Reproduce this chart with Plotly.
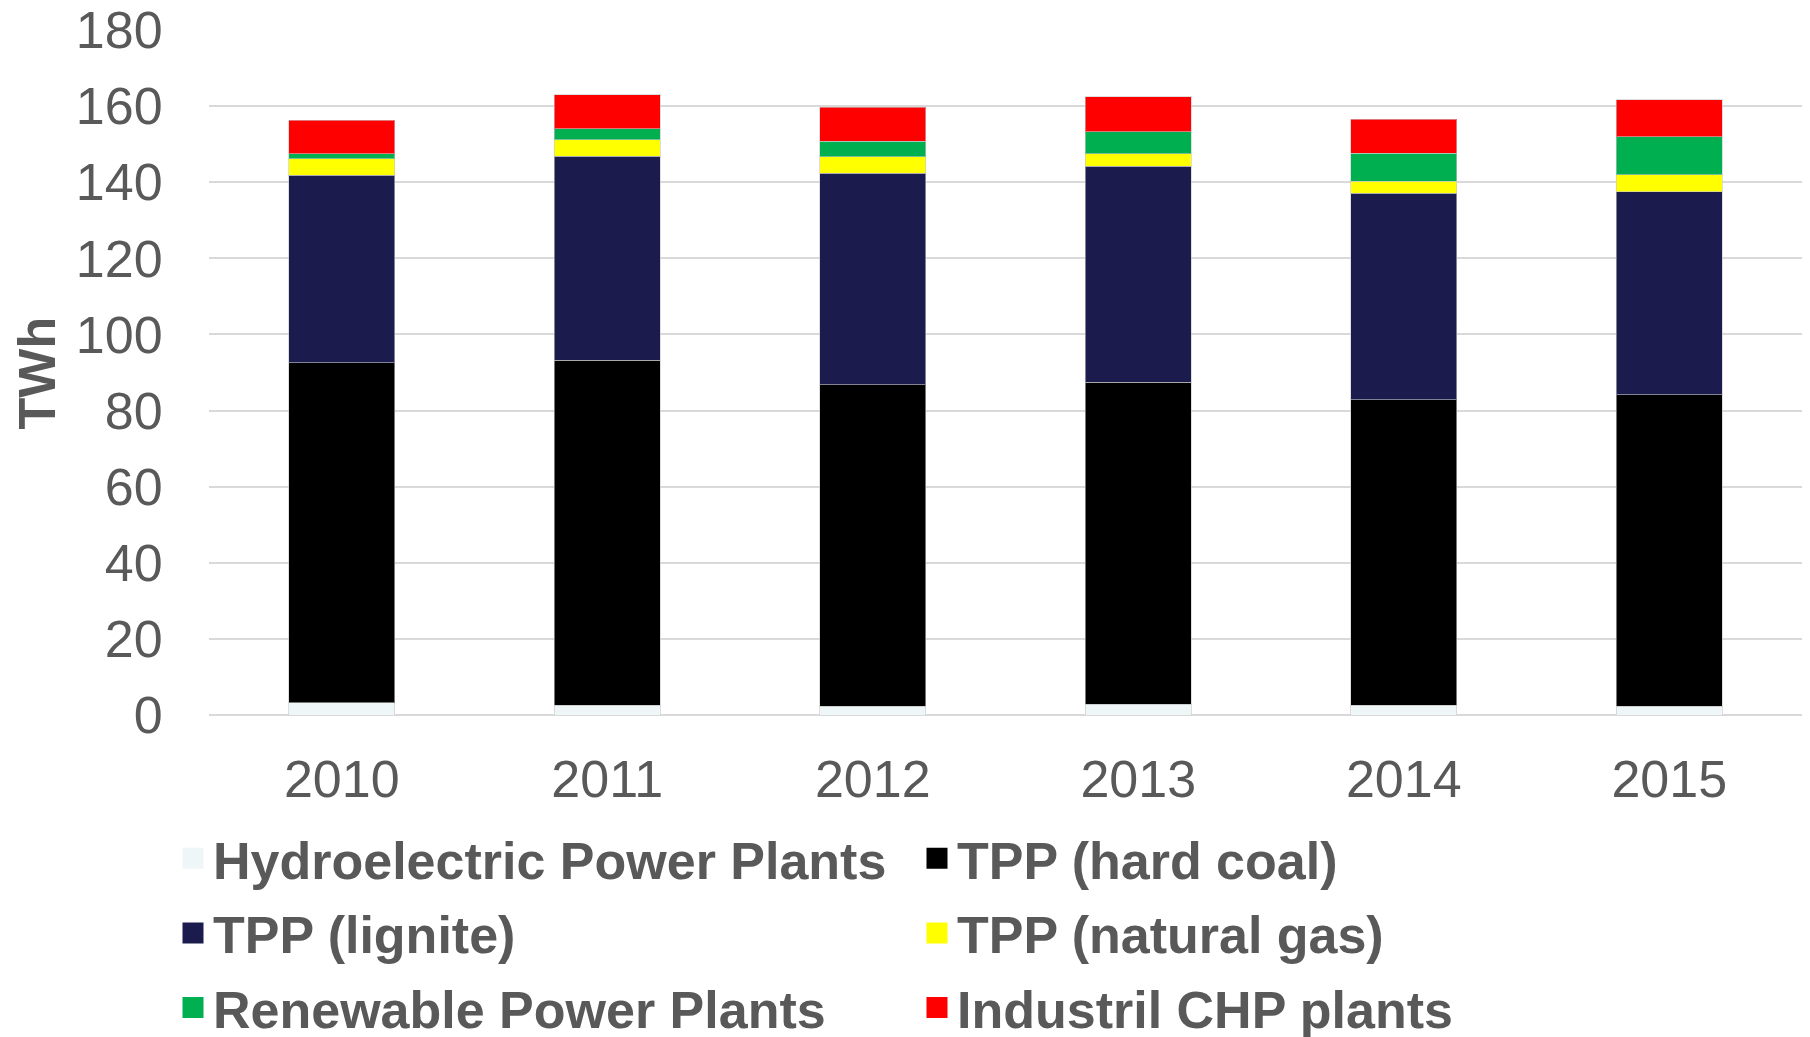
import plotly.graph_objects as go

years = ["2010", "2011", "2012", "2013", "2014", "2015"]
hydro = [3.2, 2.5, 2.3, 2.8, 2.5, 2.3]
hard_coal = [89.4, 90.7, 84.5, 84.6, 80.4, 81.8]
lignite = [49.2, 53.6, 55.5, 56.8, 54.2, 53.4]
natural_gas = [4.4, 4.4, 4.4, 3.3, 3.2, 4.4]
renewable = [1.3, 2.9, 4.1, 5.8, 7.3, 10.1]
chp = [8.8, 8.9, 8.9, 9.1, 8.9, 9.7]

y_ticks = [0, 20, 40, 60, 80, 100, 120, 140, 160, 180]

series = [
    ("Hydroelectric Power Plants", hydro, "#EEF6F8", "legend"),
    ("TPP (hard coal)", hard_coal, "#000000", "legend2"),
    ("TPP (lignite)", lignite, "#1B1B4D", "legend"),
    ("TPP (natural gas)", natural_gas, "#FFFF00", "legend2"),
    ("Renewable Power Plants", renewable, "#00B050", "legend"),
    ("Industril CHP plants", chp, "#FF0000", "legend2"),
]

FONT = "Liberation Sans, Arial, sans-serif"
GREY = "#595959"

fig = go.Figure()
for name, vals, color, lg in series:
    fig.add_trace(go.Bar(
        x=years, y=vals, name=name, showlegend=False,
        marker=dict(color=color, line=dict(color="rgba(200,200,200,0.6)", width=1)),
    ))

for i, (name, vals, color, lg) in enumerate(series):
    fig.add_trace(go.Scatter(
        x=years[:1], y=[None], mode="markers", name=name, legend=lg,
        legendgroup=f"g{i}", hoverinfo="skip",
        marker=dict(symbol="square", size=16, color=color,
                    line=dict(color=color, width=5)),
    ))

legend_common = dict(
    xref="container", yref="container", xanchor="left", yanchor="top",
    orientation="v", traceorder="grouped", tracegroupgap=4,
    font=dict(family=FONT, size=52, color=GREY, weight="bold"),
    bgcolor="rgba(0,0,0,0)",
)

fig.update_layout(
    width=1810, height=1037,
    barmode="stack", bargap=0.6,
    plot_bgcolor="white", paper_bgcolor="white",
    margin=dict(l=201, r=16, t=22, b=330, autoexpand=False),
    font=dict(family=FONT, size=52, color=GREY),
    xaxis=dict(type="category", categoryorder="array", categoryarray=years,
               showgrid=False, showline=False, automargin=False,
               ticks="outside", ticklen=19, tickcolor="rgba(0,0,0,0)",
               tickfont=dict(size=52, color=GREY)),
    yaxis=dict(range=[0, 180], autorange=False, tickvals=y_ticks, showgrid=True,
               gridcolor="#D9D9D9", gridwidth=2, zeroline=True,
               zerolinecolor="#D9D9D9", zerolinewidth=2, showline=False,
               ticks="outside", ticklen=35, tickcolor="rgba(0,0,0,0)",
               ticklabeloverflow="allow",
               tickfont=dict(size=52, color=GREY), automargin=False),
    annotations=[dict(
        text="<b>TWh</b>", textangle=-90, showarrow=False,
        xref="paper", yref="paper", x=-0.108, y=0.5,
        xanchor="center", yanchor="middle",
        font=dict(family=FONT, size=52, color=GREY),
    )],
    legend=dict(x=165 / 1810, y=1 - 810 / 1037, **legend_common),
    legend2=dict(x=909 / 1810, y=1 - 810 / 1037, **legend_common),
)

fig.write_html("out.html")
